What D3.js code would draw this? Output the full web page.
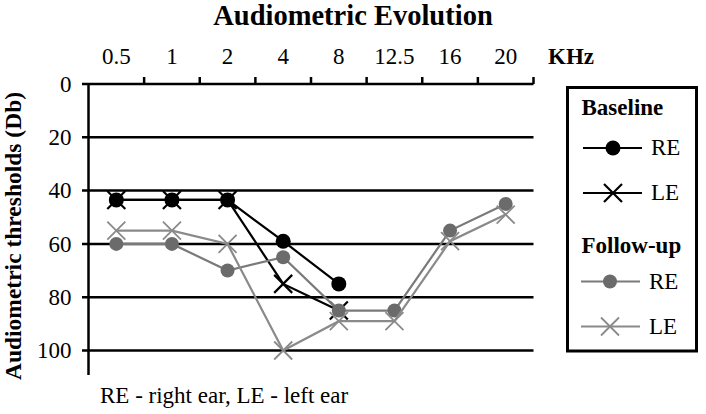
<!DOCTYPE html>
<html>
<head>
<meta charset="utf-8">
<script src="https://cdn.jsdelivr.net/npm/d3@7"></script>
<style>
  body { margin: 0; background: #fff; }
  svg { display: block; font-family: "Liberation Serif", "Times New Roman", serif; }
</style>
</head>
<body>
<svg id="chart" width="706" height="414"></svg>
<script>
const freqs = ["0.5", "1", "2", "4", "8", "12.5", "16", "20"];
const yTicks = [0, 20, 40, 60, 80, 100];

// thresholds in Db, null where no measure
const baseRE = [43.5, 43.5, 43.5, 59, 75, null, null, null];
const baseLE = [43.5, 43.5, 43.5, 75, 85, null, null, null];
const followRE = [60, 60, 70, 65, 85, 85, 55, 45];
const followLE = [55, 55, 60, 100, 89, 89, 59, 49];

const svg = d3.select("#chart");

const x = d3.scaleBand().domain(freqs).range([88.5, 533.5]);
const y = d3.scaleLinear().domain([0, 100]).range([84, 350.5]);

const series = [
  { name: "base RE", values: baseRE, color: "#000", lineColor: "#000", mark: "circle", r: 7.5 },
  { name: "base LE", values: baseLE, color: "#000", lineColor: "#000", mark: "cross", r: 9 },
  { name: "follow RE", values: followRE, color: "#6b6b6b", lineColor: "#7a7a7a", mark: "circle", r: 7 },
  { name: "follow LE", values: followLE, color: "#8a8a8a", lineColor: "#8a8a8a", mark: "cross", r: 9 },
];

// title
svg.append("text")
  .attr("x", 353).attr("y", 24.5)
  .attr("text-anchor", "middle")
  .style("font-size", "28.5px").style("font-weight", "bold")
  .text("Audiometric Evolution");

// gridlines (the 0 line is the top axis)
svg.append("g")
  .selectAll("line")
  .data(yTicks)
  .enter()
  .append("line")
  .attr("x1", 82).attr("x2", 533.5)
  .attr("y1", (d) => y(d)).attr("y2", (d) => y(d))
  .attr("stroke", "#000").attr("stroke-width", 2.5);

// top axis labels
const topAxis = svg.append("g")
  .attr("transform", `translate(0,${y(0)})`)
  .call(d3.axisTop(x).tickSize(0).tickPadding(20));
topAxis.select(".domain").remove();
topAxis.selectAll("text")
  .style("font-size", "23px")
  .style("font-family", "Liberation Serif, serif")
  .attr("fill", "#000");

// tick marks at band edges
svg.append("g")
  .selectAll("line")
  .data(freqs)
  .enter()
  .append("line")
  .attr("x1", (d) => x(d) + x.bandwidth()).attr("x2", (d) => x(d) + x.bandwidth())
  .attr("y1", y(0)).attr("y2", y(0) - 7)
  .attr("stroke", "#000").attr("stroke-width", 2.5);

svg.append("text")
  .attr("x", 548).attr("y", 64)
  .style("font-size", "23px").style("font-weight", "bold")
  .text("KHz");

// left axis
const leftAxis = svg.append("g")
  .attr("transform", "translate(88.5,0)")
  .call(d3.axisLeft(y).tickValues(yTicks).tickSize(0).tickPadding(17));
leftAxis.select(".domain").remove();
leftAxis.selectAll("text")
  .style("font-size", "23px")
  .style("font-family", "Liberation Serif, serif")
  .attr("fill", "#000");

svg.append("line")
  .attr("x1", 88.5).attr("x2", 88.5)
  .attr("y1", y(0)).attr("y2", 375)
  .attr("stroke", "#000").attr("stroke-width", 2.5);

svg.append("text")
  .attr("transform", "translate(21,236) rotate(-90)")
  .attr("text-anchor", "middle")
  .style("font-size", "23.5px").style("font-weight", "bold")
  .text("Audiometric thresholds (Db)");

// series
const cx = (i) => x(freqs[i]) + x.bandwidth() / 2;
const line = d3.line()
  .defined((d) => d != null)
  .x((d, i) => cx(i))
  .y((d) => y(d));

const crossPath = (s) => `M${-s},${-s}L${s},${s}M${-s},${s}L${s},${-s}`;

series.forEach((s) => {
  const g = svg.append("g");
  g.append("path")
    .datum(s.values)
    .attr("d", line)
    .attr("fill", "none")
    .attr("stroke", s.lineColor)
    .attr("stroke-width", 2.2);

  const pts = s.values.map((v, i) => ({ v, i })).filter((d) => d.v != null);
  if (s.mark === "circle") {
    g.selectAll("circle")
      .data(pts)
      .enter()
      .append("circle")
      .attr("cx", (d) => cx(d.i))
      .attr("cy", (d) => y(d.v))
      .attr("r", s.r)
      .attr("fill", s.color);
  } else {
    g.selectAll("path.mk")
      .data(pts)
      .enter()
      .append("path")
      .attr("class", "mk")
      .attr("transform", (d) => `translate(${cx(d.i)},${y(d.v)})`)
      .attr("d", crossPath(s.r))
      .attr("stroke", s.color)
      .attr("stroke-width", s.color === "#000" ? 2.2 : 1.8)
      .attr("fill", "none");
  }
});

// legend
const legend = svg.append("g");
legend.append("rect")
  .attr("x", 567.5).attr("y", 87.5)
  .attr("width", 129).attr("height", 263.5)
  .attr("fill", "#fff").attr("stroke", "#000").attr("stroke-width", 3);

const legendHeads = [
  { label: "Baseline", y: 115 },
  { label: "Follow-up", y: 253 },
];
legend.selectAll("text.head")
  .data(legendHeads)
  .enter()
  .append("text")
  .attr("class", "head")
  .attr("x", 581.5).attr("y", (d) => d.y)
  .style("font-size", "23px").style("font-weight", "bold")
  .text((d) => d.label);

const legendRows = [
  { s: series[0], label: "RE", y: 148, x1: 583, x2: 642, mx: 613 },
  { s: series[1], label: "LE", y: 193, x1: 583, x2: 642, mx: 613 },
  { s: series[2], label: "RE", y: 281.5, x1: 581, x2: 640, mx: 610 },
  { s: series[3], label: "LE", y: 326.5, x1: 581, x2: 640, mx: 610 },
];
legendRows.forEach((d) => {
  legend.append("line")
    .attr("x1", d.x1).attr("x2", d.x2)
    .attr("y1", d.y).attr("y2", d.y)
    .attr("stroke", d.s.lineColor).attr("stroke-width", 2.2);
  if (d.s.mark === "circle") {
    legend.append("circle")
      .attr("cx", d.mx).attr("cy", d.y).attr("r", d.s.r)
      .attr("fill", d.s.color);
  } else {
    legend.append("path")
      .attr("transform", `translate(${d.mx},${d.y})`)
      .attr("d", crossPath(d.s.r))
      .attr("stroke", d.s.color)
      .attr("stroke-width", d.s.color === "#000" ? 2.2 : 1.8)
      .attr("fill", "none");
  }
  legend.append("text")
    .attr("x", d.x2 + 9).attr("y", d.y + 7)
    .style("font-size", "23px")
    .text(d.label);
});

// footnote
svg.append("text")
  .attr("x", 100).attr("y", 403)
  .style("font-size", "23px")
  .text("RE - right ear, LE - left ear");
</script>
</body>
</html>
